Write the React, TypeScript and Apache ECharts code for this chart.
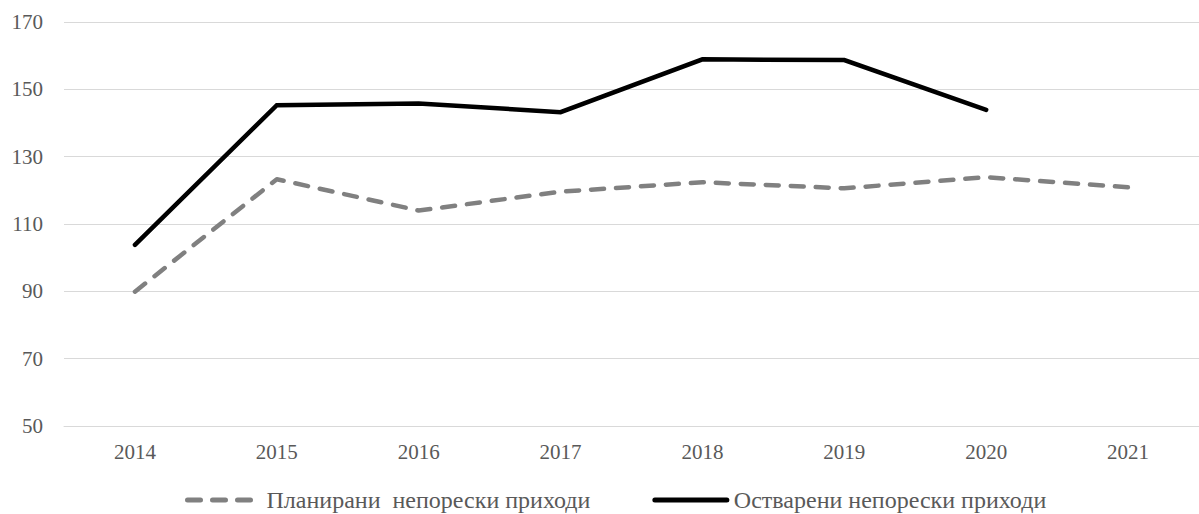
import React, { useEffect, useRef } from "react";
import * as echarts from "echarts";

const years = ["2014", "2015", "2016", "2017", "2018", "2019", "2020", "2021"];
const planned = [89.9, 123.3, 114.0, 119.6, 122.4, 120.6, 123.9, 120.9];
const actual: (number | null)[] = [103.8, 145.3, 145.8, 143.2, 158.9, 158.7, 143.9, null];
const plannedName = "Планирани  непорески приходи";
const actualName = "Остварени непорески приходи";

const FONT = "'Liberation Serif', 'Times New Roman', serif";
const DASH = [13, 12];

export default function App() {
  const ref = useRef<HTMLDivElement>(null);
  useEffect(() => {
    if (!ref.current) return;
    const chart = echarts.init(ref.current, undefined, { renderer: "svg" });
    chart.setOption({
      animation: false,
      backgroundColor: "#ffffff",
      grid: { left: 64, top: 22, width: 1150, height: 404 },
      legend: {
        left: 185,
        top: 488,
        padding: 0,
        itemWidth: 72,
        itemHeight: 12,
        itemGap: 62,
        textStyle: {
          fontFamily: FONT,
          fontSize: 24,
          lineHeight: 24,
          color: "#595959",
          padding: [0, 0, 0, 2],
        },
        data: [
          {
            name: plannedName,
            itemStyle: { opacity: 0 },
            lineStyle: { color: "#808080", width: 5, type: DASH, cap: "round" },
          },
          {
            name: actualName,
            itemStyle: { opacity: 0 },
            lineStyle: { color: "#000000", width: 5, cap: "round" },
          },
        ],
      },
      xAxis: {
        type: "category",
        data: years,
        boundaryGap: true,
        axisLine: { show: true, lineStyle: { color: "#d9d9d9", width: 1 } },
        axisTick: { show: false },
        axisLabel: { fontFamily: FONT, fontSize: 21, color: "#595959", margin: 15 },
      },
      yAxis: {
        type: "value",
        min: 50,
        max: 170,
        interval: 20,
        axisLine: { show: false },
        axisTick: { show: false },
        splitLine: { lineStyle: { color: "#d9d9d9", width: 1 } },
        axisLabel: { fontFamily: FONT, fontSize: 21, color: "#595959", margin: 21 },
      },
      series: [
        {
          name: plannedName,
          type: "line",
          data: planned,
          symbol: "none",
          lineStyle: { color: "#808080", width: 4.5, type: DASH, cap: "round", join: "round" },
          itemStyle: { color: "#808080" },
        },
        {
          name: actualName,
          type: "line",
          data: actual,
          symbol: "none",
          lineStyle: { color: "#000000", width: 4.5, cap: "round", join: "miter" },
          itemStyle: { color: "#000000" },
        },
      ],
    });
    return () => chart.dispose();
  }, []);
  return (
    <div
      ref={ref}
      style={{ position: "fixed", left: 0, top: 0, width: 1199, height: 514, background: "#fff" }}
    />
  );
}
